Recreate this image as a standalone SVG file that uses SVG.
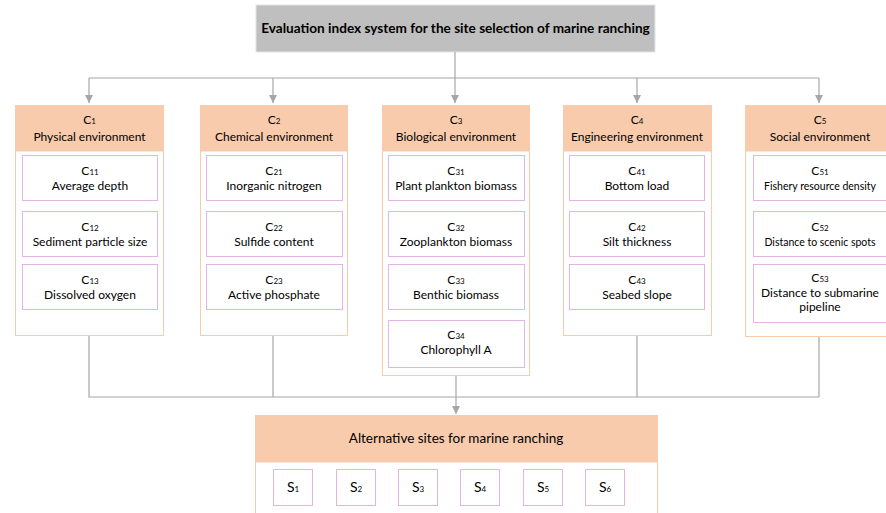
<svg xmlns="http://www.w3.org/2000/svg" width="886" height="513" viewBox="0 0 886 513">
<defs>
<marker id="arr" viewBox="0 0 10 10" refX="10" refY="5" markerWidth="8" markerHeight="8" markerUnits="userSpaceOnUse" orient="auto">
<path d="M0,0 L10,5 L0,10 z" fill="#a6a6a6"/>
</marker>
<style>
text{font-family:Lato,"Open Sans","Liberation Sans",sans-serif;fill:#000000;text-anchor:middle;font-size:12px}
.title{font-weight:bold;font-size:13.6px}
.grp{fill:#ffffff;stroke:#f8cbad;stroke-width:1}
.hdr{fill:#f8cbad}
.item{fill:#ffffff;stroke:#e4b4e4;stroke-width:1}
.sub{font-size:8px}
.sm{font-size:10.5px}
.big{font-size:13.5px}
.s{font-size:14px}
.con{fill:none;stroke:#a6a6a6;stroke-width:1.2}
</style>
</defs>
<g id="title">
<rect x="256" y="5" width="399" height="47" fill="#bfbfbf" stroke="#dde6f0"/>
<text class="title" x="455.5" y="33">Evaluation index system for the site selection of marine ranching</text>
</g>
<g id="connectors">
<path class="con" d="M455,52 V103" marker-end="url(#arr)"/>
<path class="con" d="M89,78 H819"/>
<path class="con" d="M89,78 V103" marker-end="url(#arr)"/>
<path class="con" d="M273,78 V103" marker-end="url(#arr)"/>
<path class="con" d="M637,78 V103" marker-end="url(#arr)"/>
<path class="con" d="M819,78 V103" marker-end="url(#arr)"/>
<path class="con" d="M89,335 V397 H819"/>
<path class="con" d="M273,335 V397"/>
<path class="con" d="M637,335 V397"/>
<path class="con" d="M819,336 V397"/>
<path class="con" d="M456,375 V414" marker-end="url(#arr)"/>
</g>
<g id="C1">
<rect class="grp" x="15.5" y="105.5" width="148" height="230"/>
<rect class="hdr" x="15.5" y="105.5" width="148" height="46"/>
<text x="89.5" y="124">C<tspan class="sub">1</tspan></text>
<text x="89.5" y="141">Physical environment</text>
<rect class="item" x="22.5" y="155.5" width="135" height="45"/>
<text x="90" y="175">C<tspan class="sub">11</tspan></text>
<text x="90" y="190">Average depth</text>
<rect class="item" x="22.5" y="211.5" width="135" height="45"/>
<text x="90" y="231">C<tspan class="sub">12</tspan></text>
<text x="90" y="246">Sediment particle size</text>
<rect class="item" x="22.5" y="264.5" width="135" height="45"/>
<text x="90" y="284">C<tspan class="sub">13</tspan></text>
<text x="90" y="299">Dissolved oxygen</text>
</g>
<g id="C2">
<rect class="grp" x="200.5" y="105.5" width="147" height="230"/>
<rect class="hdr" x="200.5" y="105.5" width="147" height="46"/>
<text x="274" y="124">C<tspan class="sub">2</tspan></text>
<text x="274" y="141">Chemical environment</text>
<rect class="item" x="206.5" y="155.5" width="136" height="45"/>
<text x="274" y="175">C<tspan class="sub">21</tspan></text>
<text x="274" y="190">Inorganic nitrogen</text>
<rect class="item" x="206.5" y="211.5" width="136" height="45"/>
<text x="274" y="231">C<tspan class="sub">22</tspan></text>
<text x="274" y="246">Sulfide content</text>
<rect class="item" x="206.5" y="264.5" width="136" height="45"/>
<text x="274" y="284">C<tspan class="sub">23</tspan></text>
<text x="274" y="299">Active phosphate</text>
</g>
<g id="C3">
<rect class="grp" x="382.5" y="105.5" width="147" height="270"/>
<rect class="hdr" x="382.5" y="105.5" width="147" height="46"/>
<text x="456" y="124">C<tspan class="sub">3</tspan></text>
<text x="456" y="141">Biological environment</text>
<rect class="item" x="388.5" y="155.5" width="136" height="45"/>
<text x="456" y="175">C<tspan class="sub">31</tspan></text>
<text x="456" y="190">Plant plankton biomass</text>
<rect class="item" x="388.5" y="211.5" width="136" height="45"/>
<text x="456" y="231">C<tspan class="sub">32</tspan></text>
<text x="456" y="246">Zooplankton biomass</text>
<rect class="item" x="388.5" y="264.5" width="136" height="45"/>
<text x="456" y="284">C<tspan class="sub">33</tspan></text>
<text x="456" y="299">Benthic biomass</text>
<rect class="item" x="388.5" y="320.5" width="136" height="47"/>
<text x="456" y="339">C<tspan class="sub">34</tspan></text>
<text x="456" y="354">Chlorophyll A</text>
</g>
<g id="C4">
<rect class="grp" x="563.5" y="105.5" width="148" height="230"/>
<rect class="hdr" x="563.5" y="105.5" width="148" height="46"/>
<text x="637" y="124">C<tspan class="sub">4</tspan></text>
<text x="637" y="141">Engineering environment</text>
<rect class="item" x="569.5" y="155.5" width="135" height="45"/>
<text x="637" y="175">C<tspan class="sub">41</tspan></text>
<text x="637" y="190">Bottom load</text>
<rect class="item" x="569.5" y="211.5" width="135" height="45"/>
<text x="637" y="231">C<tspan class="sub">42</tspan></text>
<text x="637" y="246">Silt thickness</text>
<rect class="item" x="569.5" y="264.5" width="135" height="45"/>
<text x="637" y="284">C<tspan class="sub">43</tspan></text>
<text x="637" y="299">Seabed slope</text>
</g>
<g id="C5">
<rect class="grp" x="745.5" y="105.5" width="148" height="231"/>
<rect class="hdr" x="745.5" y="105.5" width="148" height="46"/>
<text x="820" y="124">C<tspan class="sub">5</tspan></text>
<text x="820" y="141">Social environment</text>
<rect class="item" x="753.5" y="155.5" width="136" height="45"/>
<text x="820" y="175">C<tspan class="sub">51</tspan></text>
<text class="sm" x="820" y="190">Fishery resource density</text>
<rect class="item" x="753.5" y="211.5" width="136" height="45"/>
<text x="820" y="231">C<tspan class="sub">52</tspan></text>
<text class="sm" x="820" y="246">Distance to scenic spots</text>
<rect class="item" x="753.5" y="264.5" width="136" height="58"/>
<text x="820" y="282">C<tspan class="sub">53</tspan></text>
<text x="820" y="297">Distance to submarine</text>
<text x="820" y="311">pipeline</text>
</g>
<g id="S">
<rect class="grp" x="255.5" y="415.5" width="402" height="110"/>
<rect class="hdr" x="255.5" y="415.5" width="402" height="47"/>
<text class="big" x="456" y="443">Alternative sites for marine ranching</text>
<rect class="item" x="273.5" y="469.5" width="39" height="36"/>
<text class="s" x="293" y="492">S<tspan class="sub">1</tspan></text>
<rect class="item" x="336.5" y="469.5" width="39" height="36"/>
<text class="s" x="356" y="492">S<tspan class="sub">2</tspan></text>
<rect class="item" x="398.5" y="469.5" width="39" height="36"/>
<text class="s" x="418" y="492">S<tspan class="sub">3</tspan></text>
<rect class="item" x="460.5" y="469.5" width="39" height="36"/>
<text class="s" x="480" y="492">S<tspan class="sub">4</tspan></text>
<rect class="item" x="523.5" y="469.5" width="39" height="36"/>
<text class="s" x="543" y="492">S<tspan class="sub">5</tspan></text>
<rect class="item" x="585.5" y="469.5" width="39" height="36"/>
<text class="s" x="605" y="492">S<tspan class="sub">6</tspan></text>
</g>
</svg>
